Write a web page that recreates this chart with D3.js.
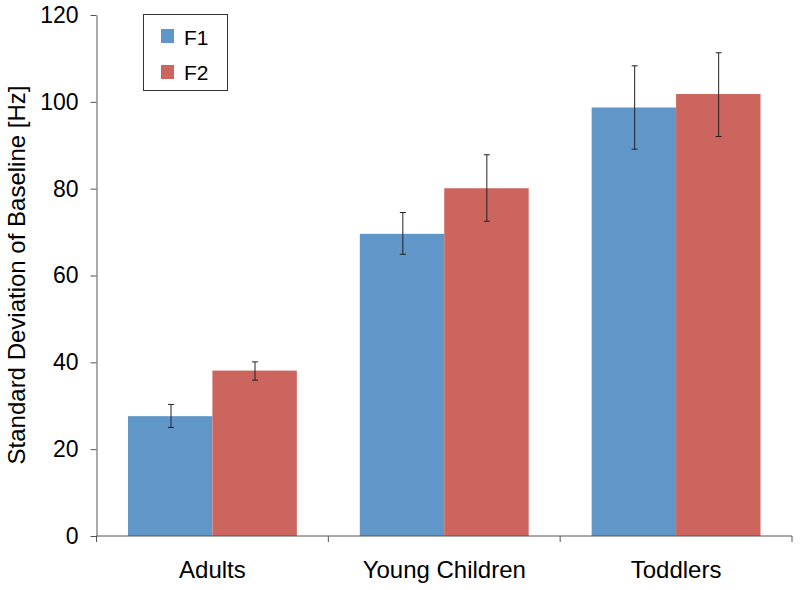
<!DOCTYPE html>
<html><head><meta charset="utf-8">
<script src="https://cdn.jsdelivr.net/npm/d3@7"></script>
<style>body{margin:0;background:#fff}svg{display:block}text{font-family:"Liberation Sans",Arial,Helvetica,sans-serif}</style>
</head><body><svg id="c" width="800" height="590"></svg>
<script>
const categories = ["Adults", "Young Children", "Toddlers"];
const seriesNames = ["F1", "F2"];
const f1Values = [27.6, 69.6, 98.7];
const f2Values = [38.1, 80.1, 101.8];
const f1ErrLow = [25.0, 64.9, 89.1];
const f1ErrHigh = [30.3, 74.5, 108.3];
const f2ErrLow = [35.9, 72.5, 92.0];
const f2ErrHigh = [40.1, 87.8, 111.3];
const yTicks = [0, 20, 40, 60, 80, 100, 120];
const colors = ["#6096C8", "#CC655E"];

const svg = d3.select("#c");
const m = {left: 96.5, right: 792, top: 15, bottom: 536};
const x = d3.scaleBand().domain(categories).range([m.left, m.right]).paddingInner(0).paddingOuter(0);
const y = d3.scaleLinear().domain([0, 120]).range([m.bottom, m.top]);
const xs = d3.scaleBand().domain(seriesNames).range([0, x.bandwidth()]).paddingInner(0).paddingOuter(0.373);

const data = categories.map((c, i) => ({
  cat: c,
  vals: [
    {s: "F1", v: f1Values[i], lo: f1ErrLow[i], hi: f1ErrHigh[i], col: colors[0]},
    {s: "F2", v: f2Values[i], lo: f2ErrLow[i], hi: f2ErrHigh[i], col: colors[1]}
  ]
}));

const g = svg.append("g").selectAll("g").data(data).join("g")
  .attr("transform", d => `translate(${x(d.cat)},0)`);
g.selectAll("rect").data(d => d.vals).join("rect")
  .attr("x", d => xs(d.s)).attr("width", xs.bandwidth())
  .attr("y", d => y(d.v)).attr("height", d => y(0) - y(d.v))
  .attr("fill", d => d.col);

const cx = d => Math.round(xs(d.s) + xs.bandwidth()/2) + 0.5;
const eb = g.selectAll("g.eb").data(d => d.vals).join("g").attr("class", "eb")
  .attr("stroke", "#222").attr("stroke-width", 1);
eb.append("line").attr("x1", cx).attr("x2", cx)
  .attr("y1", d => y(d.lo)).attr("y2", d => y(d.hi));
eb.append("line").attr("x1", d => cx(d) - 3).attr("x2", d => cx(d) + 3)
  .attr("y1", d => y(d.lo)).attr("y2", d => y(d.lo));
eb.append("line").attr("x1", d => cx(d) - 3).attr("x2", d => cx(d) + 3)
  .attr("y1", d => y(d.hi)).attr("y2", d => y(d.hi));

// y axis
const ya = svg.append("g").attr("transform", `translate(${m.left},0)`)
  .call(d3.axisLeft(y).tickValues(yTicks).tickSize(6).tickSizeOuter(0).tickPadding(12));
ya.select(".domain").attr("stroke", "#555");
ya.selectAll(".tick line").attr("stroke", "#555");
ya.selectAll("text").attr("font-size", 23).attr("fill", "#000").style("font-family", '"Liberation Sans",Arial,sans-serif');

// x axis
const xa = svg.append("g").attr("transform", `translate(0,${m.bottom})`);
xa.append("line").attr("x1", m.left).attr("x2", m.right).attr("stroke", "#555");
const bounds = [m.left].concat(categories.map(c => x(c) + x.bandwidth()));
xa.selectAll("line.tk").data(bounds).join("line").attr("class", "tk")
  .attr("x1", d => d).attr("x2", d => d).attr("y1", 0).attr("y2", 6).attr("stroke", "#555");
xa.selectAll("text").data(categories).join("text")
  .attr("x", d => x(d) + x.bandwidth()/2).attr("y", 42)
  .attr("text-anchor", "middle").attr("font-size", 24).attr("fill", "#000").text(d => d);

// y title
svg.append("text").attr("transform", `translate(25,275) rotate(-90)`)
  .attr("text-anchor", "middle").attr("font-size", 24).attr("fill", "#000")
  .text("Standard Deviation of Baseline [Hz]");

// legend
const lg = svg.append("g");
lg.append("rect").attr("x", 143.5).attr("y", 14.5).attr("width", 84).attr("height", 76)
  .attr("fill", "#fff").attr("stroke", "#333");
seriesNames.forEach((s, i) => {
  lg.append("rect").attr("x", 161).attr("y", 29 + i*36).attr("width", 13).attr("height", 14).attr("fill", colors[i]);
  lg.append("text").attr("x", 184).attr("y", 44.5 + i*35.5).attr("font-size", 21).attr("fill", "#000").text(s);
});
</script></body></html>
